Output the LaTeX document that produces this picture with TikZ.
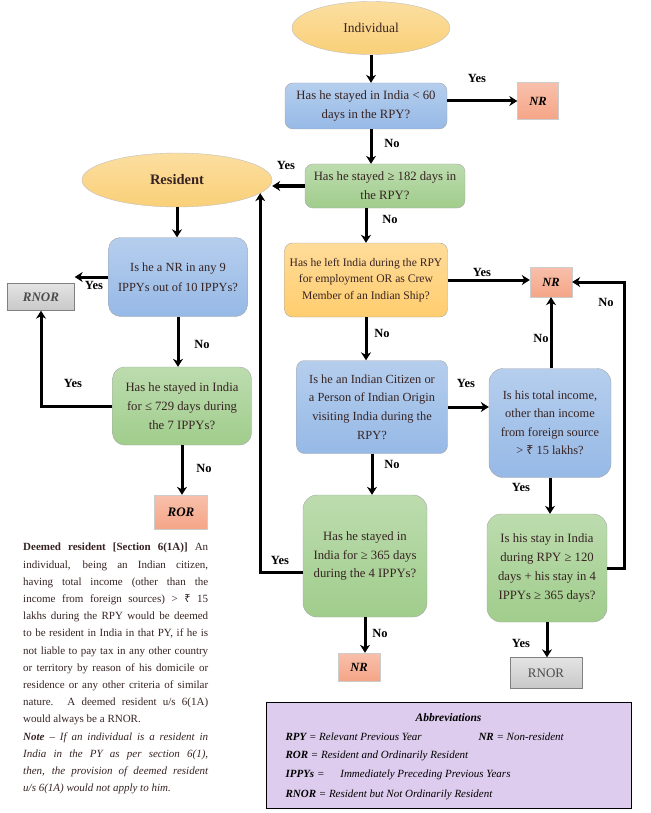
\documentclass[tikz,border=0pt]{standalone}
\usepackage{fontspec}
\setmainfont{Liberation Serif}
\newfontfamily\rupeefont{Noto Sans}
\usepackage{tikz}
\usetikzlibrary{shapes,arrows,arrows.meta,positioning,calc}
\usepackage{xcolor}
\definecolor{ovalcolor}{RGB}{250, 208, 120}
\definecolor{bluecolor}{RGB}{150, 185, 230}
\definecolor{greencolor}{RGB}{160, 205, 140}
\definecolor{orangecolor}{RGB}{255, 205, 110}
\definecolor{nrcolor}{RGB}{245, 165, 135}
\definecolor{rnorcolor}{RGB}{200, 200, 200}
\definecolor{abbrcolor}{RGB}{222, 204, 238}
\definecolor{textcolor}{RGB}{55, 35, 35}
\newcommand{\rs}{{\rupeefont ₹}}

\begin{document}
\begin{tikzpicture}[x=1pt, y=-1pt,
    oval/.style={ellipse, draw=gray!50, top color=ovalcolor!70, bottom color=ovalcolor, text=textcolor, font=\fontsize{13.5}{15}\selectfont},
    query/.style={rectangle, draw=gray!70, rounded corners=8pt, align=center, text=textcolor, font=\fontsize{12.7}{19}\selectfont},
    bluebox/.style={query, top color=bluecolor!70, bottom color=bluecolor},
    greenbox/.style={query, top color=greencolor!70, bottom color=greencolor},
    orangebox/.style={query, top color=orangecolor!70, bottom color=orangecolor},
    result/.style={rectangle, draw=gray!40, font=\bfseries\itshape\fontsize{12.5}{14}\selectfont},
    nrbox/.style={result, top color=nrcolor!70, bottom color=nrcolor},
    rnorbox/.style={result, draw=gray, top color=rnorcolor!50, bottom color=rnorcolor, text=black!70, font=\bfseries\itshape\fontsize{13}{14}\selectfont},
    lbl/.style={font=\bfseries\fontsize{12.5}{14}\selectfont},
    arrow/.style={-{Stealth[length=8pt,width=10pt]}, line width=3pt}
]
    \useasboundingbox (0,0) rectangle (650,813);

    % Start and resident ovals
    \node[oval, minimum width=158, minimum height=53] (indiv) at (371,28) {Individual};
    \node[oval, minimum width=190, minimum height=54, font=\bfseries\fontsize{14.5}{16}\selectfont] (res) at (177,180) {Resident};

    % Main column
    \node[bluebox, minimum width=162, minimum height=46] (q60) at (366,106) {Has he stayed in India < 60\\days in the RPY?};
    \node[greenbox, minimum width=160, minimum height=44] (q182) at (385,186) {Has he stayed ≥ 182 days in\\the RPY?};
    \node[orangebox, minimum width=163, minimum height=74, font=\fontsize{11.6}{16.5}\selectfont] (qleft) at (366,280) {Has he left India during the RPY\\for employment OR as Crew\\Member of an Indian Ship?};
    \node[bluebox, minimum width=151, minimum height=93, font=\fontsize{12.4}{18.7}\selectfont] (qcit) at (372,407) {Is he an Indian Citizen or\\a Person of Indian Origin\\visiting India during the\\RPY?};
    \node[greenbox, rounded corners=14pt, minimum width=124, minimum height=122, font=\fontsize{12.7}{18.5}\selectfont] (q365) at (365,556) {Has he stayed in\\India for ≥ 365 days\\during the 4 IPPYs?};

    % Right column
    \node[bluebox, rounded corners=14pt, minimum width=122, minimum height=109, font=\fontsize{12.4}{18.5}\selectfont] (qinc) at (550,423) {Is his total income,\\other than income\\from foreign source\\> \rs{} 15 lakhs?};
    \node[greenbox, rounded corners=14pt, minimum width=120, minimum height=108, font=\fontsize{12.7}{18.7}\selectfont] (qstay) at (547,568) {Is his stay in India\\during RPY ≥ 120\\days + his stay in 4\\IPPYs ≥ 365 days?};

    % Left column
    \node[bluebox, rounded corners=12pt, minimum width=139, minimum height=79, font=\fontsize{12.4}{20}\selectfont] (q9) at (178,277) {Is he a NR in any 9\\IPPYs out of 10 IPPYs?};
    \node[greenbox, rounded corners=12pt, minimum width=139, minimum height=78, font=\fontsize{12.7}{19}\selectfont] (q729) at (182,406) {Has he stayed in India\\for ≤ 729 days during\\the 7 IPPYs?};

    % Results
    \node[nrbox, minimum width=41, minimum height=37] (nr1) at (538,101) {NR};
    \node[nrbox, minimum width=42, minimum height=30] (nr2) at (551,282) {NR};
    \node[nrbox, minimum width=42, minimum height=28] (nr3) at (359,667) {NR};
    \node[nrbox, minimum width=53, minimum height=34, font=\bfseries\itshape\fontsize{13}{14}\selectfont] (ror) at (181,512) {ROR};
    \node[rnorbox, minimum width=67, minimum height=27] (rnor1) at (41,297) {RNOR};
    \node[rnorbox, minimum width=72, minimum height=31, font=\fontsize{13}{14}\selectfont] (rnor2) at (546,673) {RNOR};

    % Arrows
    \draw[arrow] (indiv) -- (indiv |- q60.north);
    \draw[arrow] (nr1 -| q60.east) -- (nr1.west);
    \draw[arrow] (indiv |- q60.south) -- (indiv |- q182.north);
    \draw[arrow] (q182.west) -- (q182.west -| res.east);
    \draw[arrow] (qleft |- q182.south) -- (qleft.north);
    \draw[arrow] (qleft.east) -- (qleft.east -| nr2.west);
    \draw[arrow] (qleft.south) -- (qleft.south |- qcit.north);
    \draw[arrow] (qcit.east) -- (qcit.east -| qinc.west);
    \draw[arrow] (qinc.north -| nr2) -- (nr2.south);
    \draw[arrow] (qinc.south) -- (qinc.south |- qstay.north);
    \draw[arrow] (qstay.east) -- ++(17,0) |- (nr2.east);
    \draw[arrow] (qstay.south) -- (qstay.south |- rnor2.north);
    \draw[arrow] (qcit.south) -- (qcit.south |- q365.north);
    \draw[arrow] (q365.south) -- (q365.south |- nr3.north);
    \draw[arrow] ([yshift=-16pt]q365.west) -| (res.-9);
    \draw[arrow] (res.south) -- (res.south |- q9.north);
    \draw[arrow] (q9.west) -- (q9.west -| rnor1.east);
    \draw[arrow] (q9.south) -- (q9.south |- q729.north);
    \draw[arrow] (q729.west) -| (rnor1.south);
    \draw[arrow] (q729.south) -- (q729.south |- ror.north);

    % Labels
    \node[lbl] (y1) at (477,78) {Yes};
    \node[lbl] (n1) at (392,143) {No};
    \node[lbl] (y2) at (286,165) {Yes};
    \node[lbl] (n2) at (390,219) {No};
    \node[lbl] (y3) at (482,272) {Yes};
    \node[lbl] (n3) at (382,333) {No};
    \node[lbl] (y4) at (466,383) {Yes};
    \node[lbl] (n4) at (541,338) {No};
    \node[lbl] (n5) at (606,302) {No};
    \node[lbl] (y5) at (521,487) {Yes};
    \node[lbl] (n6) at (392,464) {No};
    \node[lbl] (y6) at (521,643) {Yes};
    \node[lbl] (n7) at (380,633) {No};
    \node[lbl] (y7) at (280,560) {Yes};
    \node[lbl] (y8) at (94,285) {Yes};
    \node[lbl] (n8) at (202,344) {No};
    \node[lbl] (y9) at (73,383) {Yes};
    \node[lbl] (n9) at (204,468) {No};

    % Deemed resident note
    \node[anchor=north west, inner sep=0, text width=185pt, align=justify, text=textcolor, font=\fontsize{11}{17.2}\selectfont] (deemed) at (23,543) {%
        \textbf{Deemed resident [Section 6(1A)]} An\linebreak
        individual, being an Indian citizen,\linebreak
        having total income (other than the\linebreak
        income from foreign sources) > \rs{} 15\linebreak
        lakhs during the RPY would be deemed\linebreak
        to be resident in India in that PY, if he is\linebreak
        not liable to pay tax in any other country\linebreak
        or territory by reason of his domicile or\linebreak
        residence or any other criteria of similar\linebreak
        nature. A deemed resident u/s 6(1A)\linebreak
        would always be a RNOR.\par
        \textit{\textbf{Note} -- If an individual is a resident in\linebreak
        India in the PY as per section 6(1),\linebreak
        then, the provision of deemed resident\linebreak
        u/s 6(1A) would not apply to him.}};

    % Abbreviations
    \node[rectangle, draw, line width=1pt, fill=abbrcolor, minimum width=365, minimum height=106] (abbr) at (448.5,755) {};
    \node[font=\bfseries\itshape\fontsize{11.5}{13}\selectfont] (abbrtitle) at (abbr.north |- 0,718) {Abbreviations};
    \node[anchor=west, font=\itshape\fontsize{11}{13}\selectfont] (abrpy) at (282,737) {\textbf{RPY} = Relevant Previous Year};
    \node[anchor=west, font=\itshape\fontsize{11}{13}\selectfont] (abnr) at (475,737) {\textbf{NR} = Non-resident};
    \node[anchor=west, font=\itshape\fontsize{11}{13}\selectfont] (abror) at (282,756) {\textbf{ROR} = Resident and Ordinarily Resident};
    \node[anchor=west, font=\itshape\fontsize{11}{13}\selectfont] (abippy) at (282,775) {\textbf{IPPYs} =\hspace{1.2em} Immediately Preceding Previous Years};
    \node[anchor=west, font=\itshape\fontsize{11}{13}\selectfont] (abrnor) at (282,795) {\textbf{RNOR} = Resident but Not Ordinarily Resident};
\end{tikzpicture}
\end{document}
